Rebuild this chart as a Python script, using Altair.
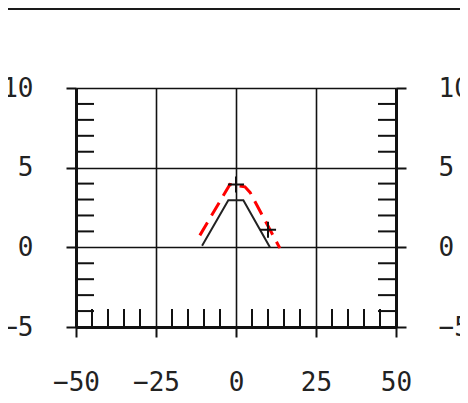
import altair as alt
import pandas as pd

# Data
black_x = [-10.6, -2.4, 2.3, 10.6]
black_y = [0.1, 2.95, 2.95, 0.0]

red_x = [-11.3, -1.9, 2.8, 4.4, 13.7]
red_y = [0.75, 3.95, 3.8, 3.45, -0.05]

marker_x = [0.0, 10.0]
marker_y = [3.94, 1.1]

x_major = [-50, -25, 0, 25, 50]
y_major = [-5, 0, 5, 10]
x_minor = [-45, -40, -35, -30, -20, -15, -10, -5, 5, 10, 15, 20, 30, 35, 40, 45]
y_minor = [-4, -3, -2, -1, 1, 2, 3, 4, 6, 7, 8, 9]

black_df = pd.DataFrame({"x": black_x, "y": black_y, "o": range(len(black_x))})
red_df = pd.DataFrame({"x": red_x, "y": red_y, "o": range(len(red_x))})
marker_df = pd.DataFrame({"x": marker_x, "y": marker_y})
xminor_df = pd.DataFrame({"v": x_minor})
yminor_df = pd.DataFrame({"v": y_minor})

xs = alt.Scale(domain=[-50, 50], nice=False, zero=False)
ys = alt.Scale(domain=[-5, 10], nice=False, zero=False)

x_axis = alt.Axis(values=x_major, format="d", tickSize=10, labelPadding=32,
                  title=None, grid=True, labelFlush=False, labelOverlap=False)
y_left = alt.Axis(values=y_major, format="d", orient="left", tickSize=10,
                  labelPadding=33, title=None, grid=True, labelFlush=False,
                  labelOverlap=False)
y_right = alt.Axis(values=y_major, format="d", orient="right", tickSize=10,
                   labelPadding=32, title=None, grid=False, labelFlush=False,
                   labelOverlap=False, labelAlign="left")

W, H = 320, 239

black = alt.Chart(black_df).mark_line(color="#222", strokeWidth=2).encode(
    x=alt.X("x:Q", scale=xs, axis=x_axis),
    y=alt.Y("y:Q", scale=ys, axis=y_left),
    order="o:Q",
)

red = alt.Chart(red_df).mark_line(color="#ff0000", strokeWidth=3,
                                  strokeDash=[15, 8]).encode(
    x=alt.X("x:Q", scale=xs, axis=x_axis),
    y=alt.Y("y:Q", scale=ys, axis=None),
    order="o:Q",
)

markers = alt.Chart(marker_df).mark_point(
    shape="M-1,0L1,0M0,-1L0,1", filled=False, color="#111",
    strokeWidth=2, size=260, opacity=1,
).encode(
    x=alt.X("x:Q", scale=xs, axis=x_axis),
    y=alt.Y("y:Q", scale=ys, axis=None),
)

left_minor = alt.Chart(yminor_df).mark_rule(color="#111", strokeWidth=2).encode(
    y=alt.Y("v:Q", scale=ys, axis=None),
    x=alt.value(0), x2=alt.value(18),
)

right_minor = alt.Chart(yminor_df).mark_rule(color="#111", strokeWidth=2).encode(
    y=alt.Y("v:Q", scale=ys, axis=y_right),
    x=alt.value(W - 18), x2=alt.value(W),
)

bottom_minor = alt.Chart(xminor_df).mark_rule(color="#111", strokeWidth=2).encode(
    x=alt.X("v:Q", scale=xs, axis=x_axis),
    y=alt.value(H - 18), y2=alt.value(H),
)

top_line = alt.Chart(pd.DataFrame({"a": [0]})).mark_rule(
    color="#1a1a1a", strokeWidth=4).encode(
    x=alt.value(-68), x2=alt.value(384), y=alt.value(-80),
)

chart = alt.layer(
    left_minor, right_minor, bottom_minor, black, red, markers, top_line
).resolve_axis(y="independent").properties(
    width=W, height=H,
    padding={"left": 68, "top": 80, "right": 64, "bottom": 68},
    autosize=alt.AutoSizeParams(type="none"),
).configure_axis(
    labelFont="DejaVu Sans Mono", labelFontSize=26, labelColor="#222",
    labelFontWeight="normal",
    tickColor="#111", tickWidth=2, domainColor="#111", domainWidth=3,
    gridColor="#111", gridWidth=1.6, gridOpacity=1,
).configure_view(stroke=None)

chart.save("out.html", embed_options={"renderer": "svg", "actions": False})
